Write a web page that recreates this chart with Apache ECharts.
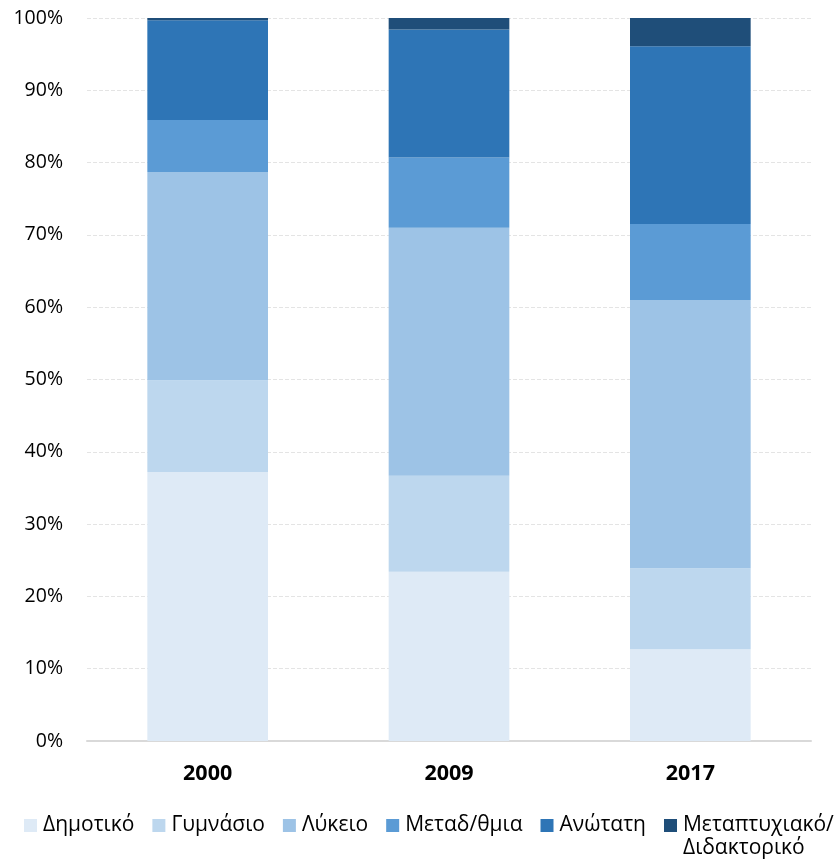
<!DOCTYPE html>
<html>
<head>
<meta charset="utf-8">
<script src="https://cdn.jsdelivr.net/npm/echarts@6/dist/echarts.min.js"></script>
<style>
  html, body { margin: 0; padding: 0; background: #fff; }
  #main { width: 834px; height: 862px; }
</style>
</head>
<body>
<div id="main"></div>
<script>
var years = ["2000", "2009", "2017"];
var levels = ["Δημοτικό", "Γυμνάσιο", "Λύκειο", "Μεταδ/θμια", "Ανώτατη", "Μεταπτυχιακό/\nΔιδακτορικό"];
var colors = ["#DEEAF6", "#BDD7EE", "#9DC3E6", "#5B9BD5", "#2E75B6", "#1F4E79"];
var dimotiko = [37.2, 23.4, 12.7];
var gymnasio = [12.7, 13.3, 11.2];
var lykeio = [28.8, 34.3, 37.1];
var metadeft = [7.2, 9.7, 10.5];
var anotati = [13.8, 17.7, 24.6];
var metaptyxiako = [0.3, 1.6, 3.9];
var yTicks = [0, 10, 20, 30, 40, 50, 60, 70, 80, 90, 100];

var values = [dimotiko, gymnasio, lykeio, metadeft, anotati, metaptyxiako];
var font = "'Open Sans', 'Noto Sans', sans-serif";

var series = levels.map((name, i) => {
  return {
    name: name,
    type: "bar",
    stack: "total",
    barWidth: "50%",
    itemStyle: { color: colors[i] },
    data: values[i]
  };
});

var myChart = echarts.init(document.getElementById("main"));
var option = {
  animation: false,
  color: colors,
  grid: {
    left: 87,
    right: 23,
    top: 18,
    bottom: 121
  },
  legend: {
    data: levels,
    left: 24,
    right: -60,
    top: 791,
    padding: 0,
    itemWidth: 13,
    itemHeight: 13,
    itemGap: 18,
    icon: "rect",
    // pad every item to three lines so the square sits beside the first line of text
    formatter: name => (name.indexOf("\n") > -1 ? " \n" + name : " \n" + name + "\n "),
    textStyle: { fontFamily: font, fontSize: 21, lineHeight: 23, color: "#000", padding: [0, 0, 0, 1] }
  },
  xAxis: {
    type: "category",
    data: years,
    axisTick: { show: false },
    axisLine: { lineStyle: { color: "#d9d9d9", width: 2 } },
    axisLabel: { fontFamily: font, fontSize: 21.5, fontWeight: "bold", color: "#000", margin: 22 }
  },
  yAxis: {
    type: "value",
    min: 0,
    max: 100,
    interval: 10,
    axisLine: { show: false },
    axisTick: { show: false },
    splitLine: { lineStyle: { color: "#e4e4e4", type: "dashed", width: 1 } },
    axisLabel: {
      fontFamily: font,
      fontSize: 19.5,
      color: "#000",
      margin: 24,
      formatter: v => (yTicks.indexOf(v) > -1 ? v + "%" : "")
    }
  },
  series: series
};
myChart.setOption(option);
</script>
</body>
</html>
